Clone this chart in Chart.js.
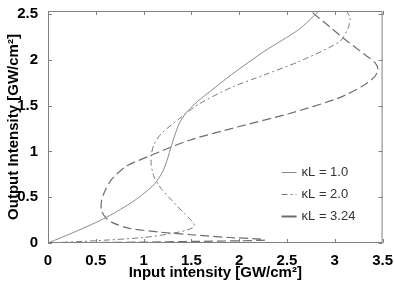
<!DOCTYPE html>
<html lang="en">
<head>
<meta charset="UTF-8">
<title>Output vs input intensity</title>
<style>
  html, body { margin: 0; padding: 0; background: #fff; }
  #wrap { width: 394px; height: 290px; }
</style>
<script src="https://cdn.jsdelivr.net/npm/chart.js"></script>
</head>
<body>
<div id="wrap"><canvas id="chart" width="394" height="290"></canvas></div>
<script>
// kL = 1.0 (solid)
const kl1In  = [0, 0.3, 0.61, 0.9, 1.11, 1.2, 1.25, 1.29, 1.37, 1.45, 1.58, 1.7, 1.92, 2.27, 2.62, 2.84];
const kl1Out = [0, 0.13, 0.28, 0.46, 0.64, 0.78, 0.92, 1.06, 1.3, 1.43, 1.56, 1.66, 1.84, 2.1, 2.33, 2.54];

// kL = 2.0 (dash-dot)
const kl2In  = [0, 0.5, 1.0, 1.27, 1.45, 1.53, 1.52, 1.42, 1.3, 1.18, 1.11, 1.08, 1.08, 1.11, 1.19, 1.4, 1.58, 1.92, 2.27, 2.62, 3.05, 3.14, 3.16, 3.12];
const kl2Out = [0, 0.025, 0.06, 0.1, 0.14, 0.18, 0.22, 0.33, 0.46, 0.6, 0.72, 0.85, 0.96, 1.08, 1.2, 1.38, 1.52, 1.7, 1.84, 1.98, 2.2, 2.35, 2.46, 2.54];

// kL = 3.24 (long dash)
const kl3In  = [0, 0.5, 1.0, 1.5, 2.0, 2.27, 2.2, 1.9, 1.5, 1.16, 0.85, 0.68, 0.61, 0.56, 0.56, 0.6, 0.67, 0.82, 1.06, 1.47, 1.99, 2.51, 3.03, 3.3, 3.42, 3.45, 3.42, 3.3, 3.1, 2.95, 2.74];
const kl3Out = [0, 0.005, 0.01, 0.017, 0.024, 0.032, 0.045, 0.06, 0.09, 0.12, 0.16, 0.22, 0.27, 0.35, 0.46, 0.58, 0.7, 0.84, 0.95, 1.12, 1.27, 1.41, 1.58, 1.72, 1.82, 1.9, 1.97, 2.07, 2.23, 2.36, 2.54];

const xTicks = [0, 0.5, 1, 1.5, 2, 2.5, 3, 3.5];
const yTicks = [0, 0.5, 1, 1.5, 2, 2.5];
const legendLabels = ['\u03baL = 1.0', '\u03baL = 2.0', '\u03baL = 3.24'];

const FONT = 'Liberation Sans, Arial, sans-serif';

function toPoints(xs, ys) {
    return xs.map((x, i) => ({ x: x, y: ys[i] }));
}

const series = [
    { label: legendLabels[0], data: toPoints(kl1In, kl1Out), borderColor: '#8a8a8a', borderWidth: 1, borderDash: [] },
    { label: legendLabels[1], data: toPoints(kl2In, kl2Out), borderColor: '#7a7a7a', borderWidth: 1, borderDash: [6, 3, 2, 3] },
    { label: legendLabels[2], data: toPoints(kl3In, kl3Out), borderColor: '#6e6e6e', borderWidth: 1.2, borderDash: [9, 4] }
];

// box round the plot with inward ticks on all four sides, MATLAB style
const framePlugin = {
    id: 'frame',
    afterDatasetsDraw(chart) {
        const { ctx, chartArea: a, scales } = chart;
        const len = 4;
        ctx.save();
        ctx.strokeStyle = '#808080';
        ctx.lineWidth = 1;
        ctx.beginPath();
        ctx.rect(a.left + 0.5, a.top + 0.5, a.right - a.left - 1, a.bottom - a.top - 1);
        xTicks.forEach(v => {
            const px = Math.round(scales.x.getPixelForValue(v)) + 0.5;
            ctx.moveTo(px, a.bottom); ctx.lineTo(px, a.bottom - len);
            ctx.moveTo(px, a.top); ctx.lineTo(px, a.top + len);
        });
        yTicks.forEach(v => {
            const py = Math.round(scales.y.getPixelForValue(v)) + 0.5;
            ctx.moveTo(a.left, py); ctx.lineTo(a.left + len, py);
            ctx.moveTo(a.right, py); ctx.lineTo(a.right - len, py);
        });
        ctx.stroke();

        // legend in the lower right of the plot
        ctx.font = '13px ' + FONT;
        ctx.textBaseline = 'middle';
        ctx.textAlign = 'left';
        series.forEach((s, i) => {
            const y = a.top + 161 + i * 22;
            const x0 = a.right - 101;
            ctx.strokeStyle = s.borderColor;
            ctx.lineWidth = i === 2 ? 2 : 1;
            ctx.setLineDash(i === 1 ? [6, 3, 2, 3] : []);
            ctx.beginPath();
            ctx.moveTo(x0, y + 0.5);
            ctx.lineTo(x0 + 15, y + 0.5);
            ctx.stroke();
            ctx.setLineDash([]);
            ctx.fillStyle = '#333';
            ctx.fillText(s.label, x0 + 20, y);
        });
        ctx.restore();
    }
};

new Chart(document.getElementById('chart'), {
    type: 'scatter',
    data: {
        datasets: series.map(s => ({
            label: s.label,
            data: s.data,
            showLine: true,
            fill: false,
            tension: 0.25,
            borderColor: s.borderColor,
            borderWidth: s.borderWidth,
            borderDash: s.borderDash,
            pointRadius: 0,
            pointHoverRadius: 0
        }))
    },
    options: {
        responsive: false,
        animation: false,
        devicePixelRatio: 1,
        layout: { padding: { top: 6, right: 11, left: 0, bottom: 0 } },
        plugins: {
            legend: { display: false },
            tooltip: { enabled: false }
        },
        scales: {
            x: {
                type: 'linear',
                min: 0,
                max: 3.5,
                afterBuildTicks: scale => { scale.ticks = xTicks.map(v => ({ value: v })); },
                afterFit: scale => { scale.height = 47; },
                grid: { display: false },
                border: { display: false },
                ticks: {
                    color: '#000', padding: 1, maxRotation: 0,
                    font: { family: FONT, size: 15, weight: 'bold' },
                    callback: v => String(v)
                },
                title: {
                    display: true,
                    text: 'Input intensity [GW/cm\u00b2]',
                    color: '#000',
                    font: { family: FONT, size: 15, weight: 'bold' },
                    padding: { top: 0, bottom: 8 }
                }
            },
            y: {
                type: 'linear',
                min: 0,
                max: 2.535,
                afterBuildTicks: scale => { scale.ticks = yTicks.map(v => ({ value: v })); },
                afterFit: scale => { scale.width = 48; },
                grid: { display: false },
                border: { display: false },
                ticks: {
                    color: '#000', padding: 2,
                    font: { family: FONT, size: 15, weight: 'bold' },
                    callback: v => String(v)
                },
                title: {
                    display: true,
                    text: 'Output Intensity [GW/cm\u00b2]',
                    color: '#000',
                    font: { family: FONT, size: 15, weight: 'bold' },
                    padding: { top: 5, bottom: 0 }
                }
            }
        }
    },
    plugins: [framePlugin]
});
</script>
</body>
</html>
